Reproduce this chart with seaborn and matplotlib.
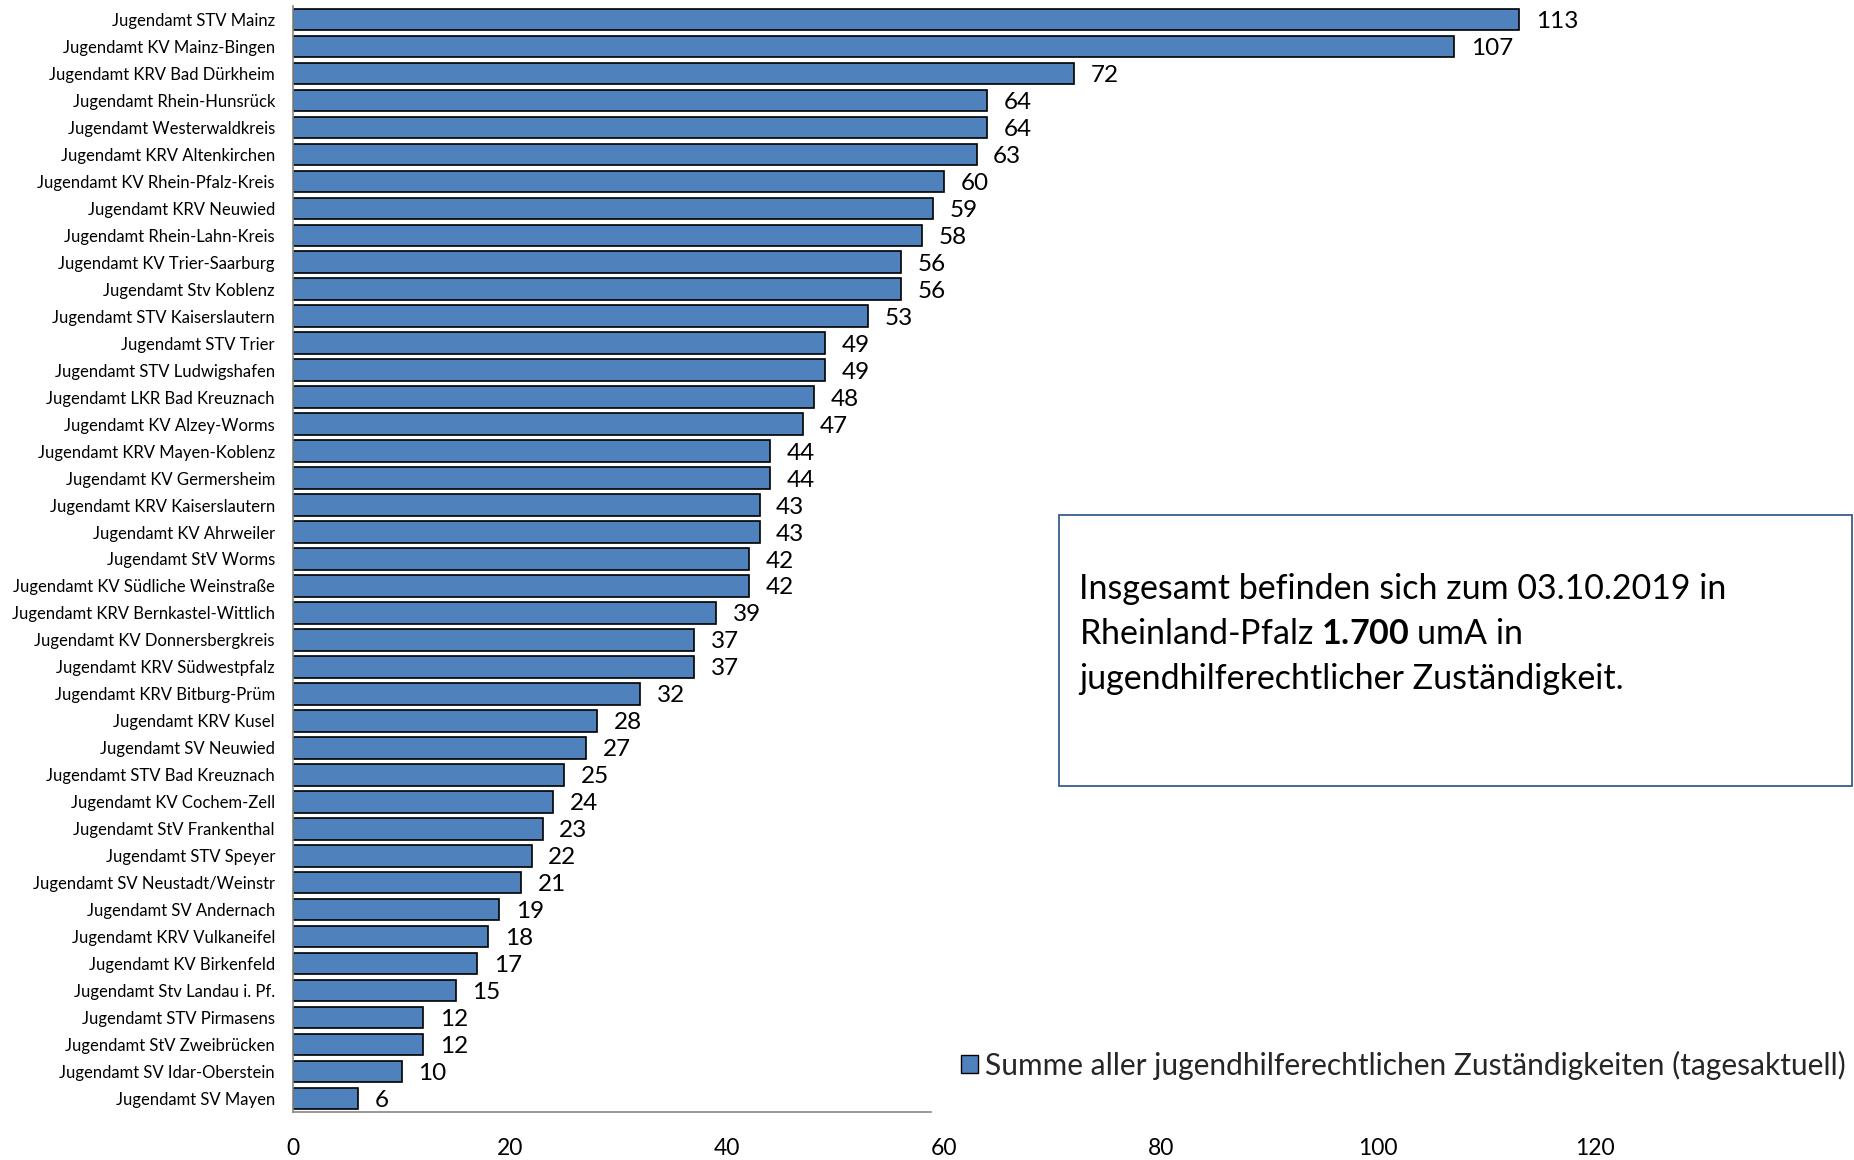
import numpy as np
import pandas as pd
import matplotlib
matplotlib.use("Agg")
import matplotlib.pyplot as plt
from matplotlib.patches import Patch, Rectangle
import seaborn as sns

# Jugendaemter, von oben nach unten wie im Original
names = [
    "Jugendamt STV Mainz", "Jugendamt KV Mainz-Bingen", "Jugendamt KRV Bad Dürkheim",
    "Jugendamt Rhein-Hunsrück", "Jugendamt Westerwaldkreis", "Jugendamt KRV Altenkirchen",
    "Jugendamt KV Rhein-Pfalz-Kreis", "Jugendamt KRV Neuwied", "Jugendamt Rhein-Lahn-Kreis",
    "Jugendamt KV Trier-Saarburg", "Jugendamt Stv Koblenz", "Jugendamt STV Kaiserslautern",
    "Jugendamt STV Trier", "Jugendamt STV Ludwigshafen", "Jugendamt LKR Bad Kreuznach",
    "Jugendamt KV Alzey-Worms", "Jugendamt KRV Mayen-Koblenz", "Jugendamt KV Germersheim",
    "Jugendamt KRV Kaiserslautern", "Jugendamt KV Ahrweiler", "Jugendamt StV Worms",
    "Jugendamt KV Südliche Weinstraße", "Jugendamt KRV Bernkastel-Wittlich",
    "Jugendamt KV Donnersbergkreis", "Jugendamt KRV Südwestpfalz", "Jugendamt KRV Bitburg-Prüm",
    "Jugendamt KRV Kusel", "Jugendamt SV Neuwied", "Jugendamt STV Bad Kreuznach",
    "Jugendamt KV Cochem-Zell", "Jugendamt StV Frankenthal", "Jugendamt STV Speyer",
    "Jugendamt SV Neustadt/Weinstr", "Jugendamt SV Andernach", "Jugendamt KRV Vulkaneifel",
    "Jugendamt KV Birkenfeld", "Jugendamt Stv Landau i. Pf.", "Jugendamt STV Pirmasens",
    "Jugendamt StV Zweibrücken", "Jugendamt SV Idar-Oberstein", "Jugendamt SV Mayen",
]
values = [113, 107, 72, 64, 64, 63, 60, 59, 58, 56, 56, 53, 49, 49, 48, 47, 44, 44, 43, 43,
          42, 42, 39, 37, 37, 32, 28, 27, 25, 24, 23, 22, 21, 19, 18, 17, 15, 12, 12, 10, 6]
x_ticks = [0, 20, 40, 60, 80, 100, 120]
legend_label = "Summe aller jugendhilferechtlichen Zuständigkeiten (tagesaktuell)"

df = pd.DataFrame({"name": names, "value": values})

sns.set_theme(style="white")
plt.rcParams["font.family"] = ["Lato", "DejaVu Sans"]
plt.rcParams["mathtext.fontset"] = "custom"
plt.rcParams["mathtext.rm"] = "Lato"
plt.rcParams["mathtext.bf"] = "Lato:bold"

W, H = 1854, 1160
fig = plt.figure(figsize=(W / 100, H / 100), dpi=100)
ax = fig.add_axes([293 / W, 1 - 1112 / H, (1595 - 293) / W, 1106 / H])

bar_color = "#4F81BD"
sns.barplot(data=df, x="value", y="name", orient="h", color=bar_color,
            edgecolor="black", linewidth=1.2, width=0.8, saturation=1, ax=ax)

labels = ax.bar_label(ax.containers[0], padding=12, fontsize=17.5, color="black")
for t in labels:
    t.set_va("center_baseline")

ax.set_xlim(0, 120)
ax.set_ylim(len(names) - 0.5, -0.5)
ax.set_xlabel("")
ax.set_ylabel("")

# Achsen im Excel-Stil
grey = "#868686"
for s in ["top", "right"]:
    ax.spines[s].set_visible(False)
ax.spines["left"].set_color(grey)
ax.spines["bottom"].set_color(grey)
ax.spines["left"].set_linewidth(1.2)
ax.spines["bottom"].set_linewidth(1.2)
ax.spines["bottom"].set_bounds(0, 58.8)

ax.set_xticks(x_ticks)
ax.set_xticks([0, 20, 40], minor=True)
ax.set_yticks(np.arange(-0.5, len(names), 1), minor=True)
ax.tick_params(axis="x", which="major", length=0, pad=19, labelsize=16.5, labelcolor="black")
ax.tick_params(axis="x", which="minor", length=7, width=1.2, color=grey, direction="out")
ax.tick_params(axis="y", which="major", length=0, pad=13, labelsize=12, labelcolor="black")
ax.tick_params(axis="y", which="minor", length=6, width=1.2, color=grey, direction="out")

# Legende
handle = Patch(facecolor=bar_color, edgecolor="black", linewidth=1.0)
fig.legend([handle], [legend_label], loc="center left",
           bbox_to_anchor=(961 / W, 1 - 1065 / H), frameon=False, fontsize=21.5,
           handlelength=0.58, handleheight=0.58, handletextpad=0.22,
           borderpad=0, borderaxespad=0)

# Textfeld
box = Rectangle((1059 / W, 1 - 786 / H), (1852 - 1059) / W, (786 - 515) / H,
                transform=fig.transFigure, facecolor="white", edgecolor="#385D8A",
                linewidth=1.3)
fig.patches.append(box)
lines = ["Insgesamt befinden sich zum 03.10.2019 in",
         r"Rheinland-Pfalz $\mathbf{1.700}$ umA in",
         "jugendhilferechtlicher Zuständigkeit."]
for i, line in enumerate(lines):
    fig.text(1079 / W, 1 - (599 + 45 * i) / H, line, fontsize=24.5,
             ha="left", va="baseline", color="black")

fig.savefig("out.png", dpi=100)
